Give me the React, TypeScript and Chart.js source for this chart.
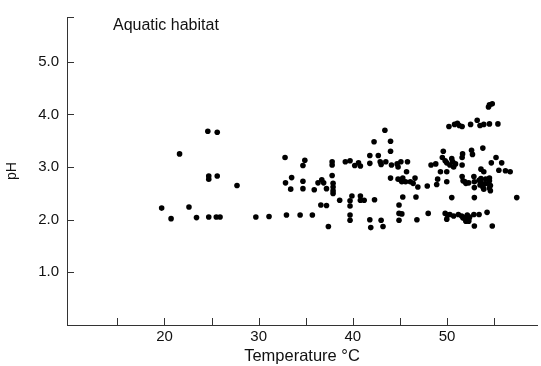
import { useEffect, useRef } from "react";
import { Chart, registerables } from "chart.js";

Chart.register(...registerables);

// Temperature (°C) of each sample
const temperature = [
  19.7, 20.7, 21.6, 22.6, 23.4, 24.6, 24.7, 24.7, 24.7, 25.6, 25.6, 25.5, 25.9, 27.7, 29.7, 31.1,
  32.8, 32.85, 33.5, 33.4, 32.95, 34.4, 34.9, 34.7, 34.7, 34.7, 35.7, 35.9, 36.3, 36.7, 36.9, 37.2,
  36.6, 37.2, 37.4, 37.8, 37.8, 37.8, 37.9, 37.9, 37.9, 37.9, 38.6, 39.2, 39.7, 40.2, 40.6, 40.8,
  39.9, 39.7, 39.7, 40.8, 40.8, 41.2, 42.3, 39.7, 39.7, 41.8, 41.9, 41.8, 41.8, 42.25,
  43.4, 44.0, 44.0, 42.7, 42.9, 43.0, 43.5, 44.1, 44.7, 45.1, 44.8, 45.8, 45.7, 44.0, 44.8, 45.1,
  45.3, 45.2, 45.6, 46.1, 46.4, 46.6, 46.9, 47.9, 45.3, 46.7, 44.9, 44.9, 45.2, 44.9, 43.0, 43.2,
  46.8, 48.0,
  48.3, 48.8, 49.6, 49.5, 49.8, 49.97, 50.5, 50.6, 50.3, 50.9, 50.7, 51.65, 51.6, 51.6, 52.6, 52.7,
  53.8, 55.2, 54.7, 55.8,
  50.2, 50.8, 51.1, 51.3, 51.6, 52.5, 53.2, 53.5, 53.9, 54.5, 55.4,
  54.4, 54.5, 54.8,
  49.3, 49.97, 53.6, 53.9, 55.5, 56.2, 56.7,
  49.0, 48.9, 49.97, 51.6, 51.7, 51.9, 52.0, 52.3, 52.85, 52.9, 52.9,
  53.4, 53.6, 53.5, 53.8, 54.0, 54.1, 54.5, 54.5, 54.4, 54.6, 54.5, 54.6, 53.9, 53.6,
  50.5, 52.9, 57.4,
  49.8, 50.05, 50.3, 50.7, 51.2, 49.97, 51.55, 51.7, 52.0, 52.15, 52.3, 52.4, 52.85, 53.4, 54.25,
  52.0, 52.3, 52.9, 54.8,
];

// pH of each sample
const phValues = [
  2.22, 2.02, 3.25, 2.24, 2.04, 3.68, 2.83, 2.77, 2.05, 3.66, 2.83, 2.05, 2.05, 2.65, 2.05, 2.06,
  3.18, 2.70, 2.80, 2.58, 2.09, 2.09, 3.13, 3.03, 2.73, 2.59, 2.09, 2.57, 2.70, 2.76, 2.70, 2.59,
  2.28, 2.27, 1.87, 3.10, 3.04, 2.84, 2.69, 2.62, 2.55, 2.50, 2.37, 3.10, 3.12, 3.03, 3.08, 3.02,
  2.45, 2.36, 2.26, 2.45, 2.37, 2.37, 2.38, 2.09, 1.99, 2.00, 1.85, 3.22, 3.07, 3.48,
  3.70, 3.49, 3.30, 3.22, 3.10, 3.05, 3.10, 3.04, 3.06, 3.10, 3.00, 3.10, 2.91, 2.79, 2.77, 2.75,
  2.79, 2.72, 2.72, 2.72, 2.69, 2.79, 2.62, 2.64, 2.43, 2.43, 2.28, 2.12, 2.11, 1.99, 1.99, 1.87,
  2.00, 2.12,
  3.04, 3.06, 3.30, 3.18, 3.12, 3.08, 3.16, 3.10, 3.04, 3.06, 3.00, 3.25, 3.18, 3.04, 3.32, 3.24,
  3.36, 3.18, 3.08, 3.08,
  3.77, 3.81, 3.83, 3.79, 3.77, 3.81, 3.89, 3.79, 3.81, 3.82, 3.82,
  4.14, 4.18, 4.20,
  2.91, 2.91, 2.96, 2.91, 2.94, 2.93, 2.91,
  2.77, 2.67, 2.72, 2.82, 2.74, 2.72, 2.69, 2.70, 2.82, 2.72, 2.61,
  2.75, 2.70, 2.66, 2.62, 2.68, 2.77, 2.79, 2.74, 2.69, 2.65, 2.60, 2.55, 2.58, 2.78,
  2.42, 2.42, 2.42,
  2.12, 2.09, 2.10, 2.07, 2.10, 2.01, 2.07, 2.03, 2.05, 2.09, 2.01, 2.05, 2.10, 2.10, 2.14,
  1.97, 1.97, 1.88, 1.88,
];

const xTickValues = [15, 20, 25, 30, 35, 40, 45, 50, 55];
const xLabelValues = [20, 30, 40, 50];
const yTickValues = [1, 2, 3, 4, 5];

const X_MIN = 9.65;
const X_MAX = 59.55;
const Y_MIN = 0;
const Y_MAX = 5.85;

const FONT = '"Liberation Sans", Arial, Helvetica, sans-serif';
const INK = "#111111";

const innerTicksPlugin = {
  id: "innerTicks",
  afterDraw(chart: any) {
    const { ctx, chartArea, scales } = chart;
    const xs = scales.x;
    const ys = scales.y;
    ctx.save();
    ctx.strokeStyle = "#333333";
    ctx.lineWidth = 1;
    ctx.beginPath();
    xTickValues.forEach((v) => {
      const px = Math.round(xs.getPixelForValue(v)) + 0.5;
      ctx.moveTo(px, chartArea.bottom);
      ctx.lineTo(px, chartArea.bottom - 7);
    });
    [...yTickValues, ys.max].forEach((v) => {
      const py = Math.round(ys.getPixelForValue(v)) + 0.5;
      ctx.moveTo(chartArea.left, py);
      ctx.lineTo(chartArea.left + 7, py);
    });
    ctx.stroke();
    ctx.fillStyle = INK;
    ctx.font = `16px ${FONT}`;
    ctx.textBaseline = "alphabetic";
    ctx.textAlign = "left";
    ctx.fillText("Aquatic habitat", chartArea.left + 46, chartArea.top + 12.5);
    ctx.restore();
  },
};

export default function App() {
  const canvasRef = useRef<HTMLCanvasElement | null>(null);

  useEffect(() => {
    const canvas = canvasRef.current;
    if (!canvas) return;
    const points = temperature.map((t, i) => ({ x: t, y: phValues[i] }));
    const chart = new Chart(canvas, {
      type: "scatter",
      data: {
        datasets: [
          {
            data: points,
            backgroundColor: "#000000",
            borderColor: "#000000",
            borderWidth: 0,
            pointRadius: 2.8,
          },
        ],
      },
      plugins: [innerTicksPlugin],
      options: {
        responsive: false,
        animation: false,
        layout: { padding: { left: 0, right: 0, top: 16, bottom: 0 } },
        plugins: { legend: { display: false }, tooltip: { enabled: false } },
        scales: {
          x: {
            type: "linear",
            position: "bottom",
            min: X_MIN,
            max: X_MAX,
            afterBuildTicks: (scale: any) => {
              scale.ticks = xTickValues.map((v) => ({ value: v }));
            },
            afterFit: (scale: any) => {
              scale.height = 41;
            },
            grid: { display: false, drawTicks: false },
            border: { display: true, color: "#333333", width: 1 },
            ticks: {
              autoSkip: false,
              maxRotation: 0,
              padding: 3,
              color: INK,
              font: { family: FONT, size: 15 },
              callback: (v: any) => (xLabelValues.includes(Number(v)) ? String(v) : ""),
            },
            title: {
              display: true,
              text: "Temperature \u00B0C",
              color: INK,
              font: { family: FONT, size: 16.5 },
              padding: { top: 0, bottom: 0 },
            },
          },
          y: {
            type: "linear",
            min: Y_MIN,
            max: Y_MAX,
            afterBuildTicks: (scale: any) => {
              scale.ticks = yTickValues.map((v) => ({ value: v }));
            },
            afterFit: (scale: any) => {
              scale.width = 67;
            },
            grid: { display: false, drawTicks: false },
            border: { display: true, color: "#333333", width: 1 },
            ticks: {
              autoSkip: false,
              padding: 8,
              color: INK,
              font: { family: FONT, size: 15 },
              callback: (v: any) => Number(v).toFixed(1),
            },
            title: {
              display: true,
              text: "pH",
              color: INK,
              font: { family: FONT, size: 14 },
              padding: { top: 4, bottom: 0 },
            },
          },
        },
      },
    });
    return () => chart.destroy();
  }, []);

  return (
    <div style={{ position: "fixed", left: 0, top: 0, width: 541, height: 366, background: "#ffffff" }}>
      <canvas ref={canvasRef} width={541} height={366} style={{ display: "block" }} />
    </div>
  );
}
